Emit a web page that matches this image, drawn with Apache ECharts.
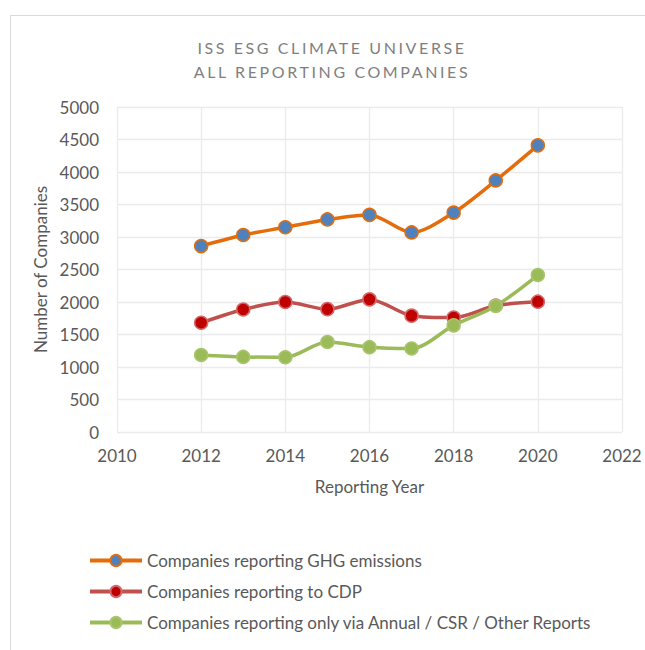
<!DOCTYPE html>
<html>
<head>
<meta charset="utf-8">
<script src="https://cdn.jsdelivr.net/npm/echarts@6/dist/echarts.min.js"></script>
<style>
  html, body { margin: 0; padding: 0; background: #ffffff; }
  #chart { width: 645px; height: 650px; }
  text[style*="TitleFace"], text[font-family*="TitleFace"] { letter-spacing: 2.6px; }
</style>
</head>
<body>
<div id="chart"></div>
<script>
const titleLines = ['ISS ESG CLIMATE UNIVERSE', 'ALL REPORTING COMPANIES'];
const years = [2012, 2013, 2014, 2015, 2016, 2017, 2018, 2019, 2020];
const seriesNames = [
  'Companies reporting GHG emissions',
  'Companies reporting to CDP',
  'Companies reporting only via Annual / CSR / Other Reports'
];
const ghgValues = [2860, 3030, 3150, 3270, 3340, 3070, 3375, 3870, 4410];
const cdpValues = [1680, 1885, 2000, 1890, 2040, 1790, 1760, 1945, 2005];
const otherValues = [1185, 1155, 1150, 1385, 1305, 1285, 1640, 1940, 2415];
const xAxisRange = [2010, 2022, 2];
const yAxisRange = [0, 5000, 500];
const xAxisName = 'Reporting Year';
const yAxisName = 'Number of Companies';

const pairs = vals => years.map((y, i) => [y, vals[i]]);
const font = 'Lato';
const labelColor = '#595959';
const plain = v => String(v);

const chart = echarts.init(document.getElementById('chart'), null, { renderer: 'svg' });

function lineSeries(name, vals, lineColor, fill, border) {
  return {
    name: name,
    type: 'line',
    data: pairs(vals),
    smooth: 0.3,
    symbol: 'circle',
    symbolSize: 13,
    lineStyle: { color: lineColor, width: 3.5 },
    itemStyle: { color: fill, borderColor: border, borderWidth: 1.5 },
    emphasis: { disabled: true },
    z: 3
  };
}

chart.setOption({
  animation: false,
  backgroundColor: '#ffffff',
  graphic: [{
    type: 'rect',
    shape: { x: 10.5, y: 15.5, width: 700, height: 700 },
    style: { fill: 'none', stroke: '#D9D9D9', lineWidth: 1 },
    silent: true,
    z: -10
  }],
  title: {
    text: titleLines.join('\n'),
    left: 327,
    top: 30,
    textAlign: 'center',
    textStyle: {
      fontFamily: font + ', TitleFace',
      fontSize: 16,
      fontWeight: 'normal',
      color: '#7F7F7F',
      lineHeight: 24
    }
  },
  grid: { left: 117, right: 23, top: 107, bottom: 218, containLabel: false },
  xAxis: {
    type: 'value',
    min: xAxisRange[0], max: xAxisRange[1], interval: xAxisRange[2],
    name: xAxisName,
    nameLocation: 'middle',
    nameGap: 46,
    nameTextStyle: { fontFamily: font, fontSize: 17, color: labelColor },
    axisLine: { show: false },
    axisTick: { show: false },
    axisLabel: { fontFamily: font, fontSize: 17, color: labelColor, margin: 15, formatter: plain },
    splitLine: { show: true, lineStyle: { color: '#EBEBEB', width: 1.3 } }
  },
  yAxis: {
    type: 'value',
    min: yAxisRange[0], max: yAxisRange[1], interval: yAxisRange[2],
    name: yAxisName,
    nameLocation: 'middle',
    nameGap: 66,
    nameRotate: 90,
    nameTextStyle: { fontFamily: font, fontSize: 17, color: labelColor },
    axisLine: { show: false },
    axisTick: { show: false },
    axisLabel: { fontFamily: font, fontSize: 17, color: labelColor, margin: 18, formatter: plain },
    splitLine: { show: true, lineStyle: { color: '#EBEBEB', width: 1.3 } }
  },
  legend: {
    orient: 'vertical',
    left: 83,
    top: 547,
    itemWidth: 52,
    itemHeight: 14,
    itemGap: 14,
    lineStyle: { width: 4 },
    textStyle: { fontFamily: font, fontSize: 17, color: labelColor },
    data: seriesNames
  },
  series: [
    lineSeries(seriesNames[0], ghgValues, '#E46C0A', '#4F81BD', '#E46C0A'),
    lineSeries(seriesNames[1], cdpValues, '#C0504D', '#C00000', '#D2696A'),
    lineSeries(seriesNames[2], otherValues, '#9BBB59', '#9BBB59', '#A9C56E')
  ]
});
</script>
</body>
</html>
